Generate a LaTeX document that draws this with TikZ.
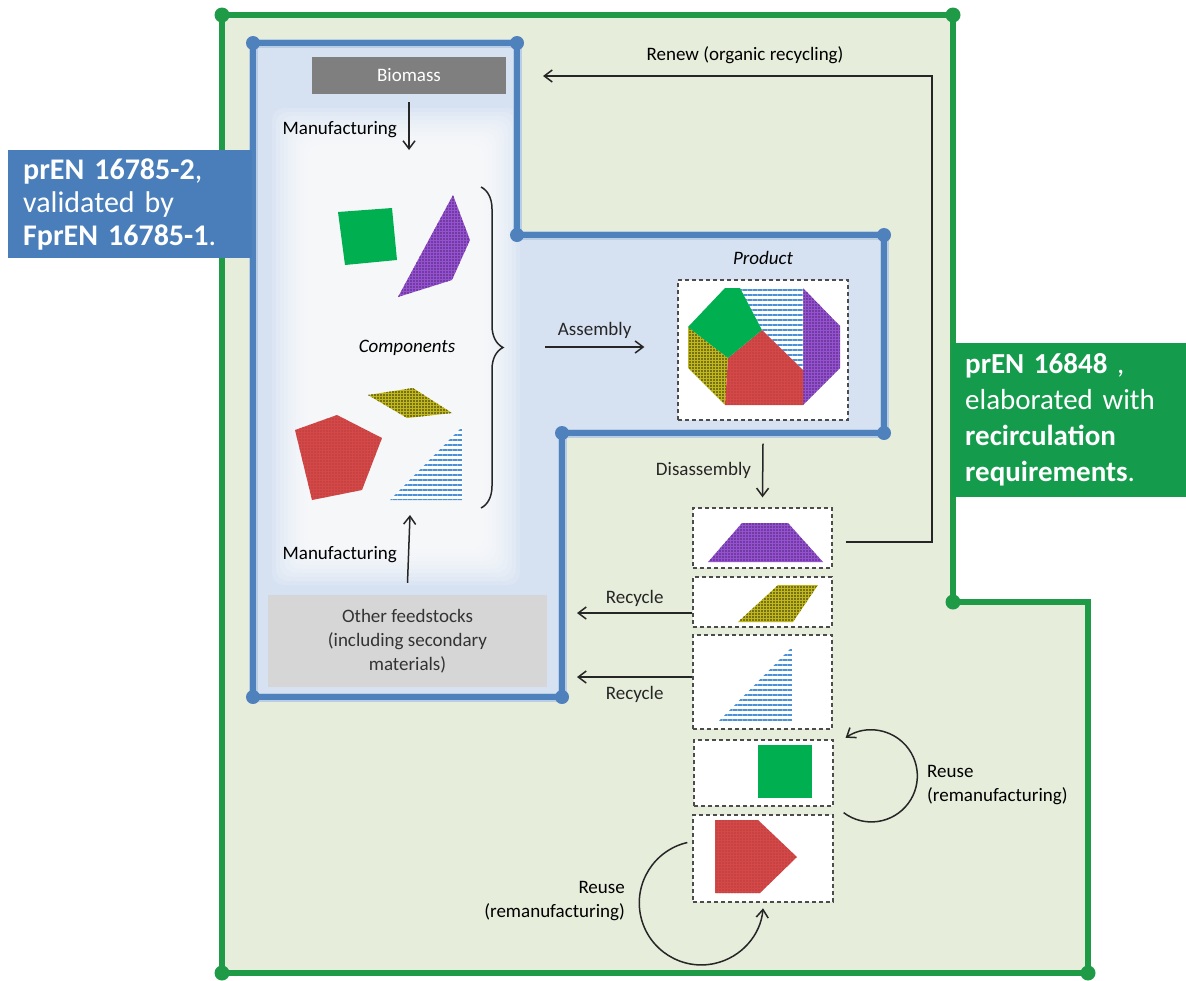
\documentclass[tikz,border=0pt]{standalone}
\usepackage{fontspec}
\setmainfont{Carlito}
\usetikzlibrary{arrows.meta,positioning,decorations.pathreplacing,patterns.meta}
\definecolor{frame}{RGB}{31,155,72}
\definecolor{frameback}{RGB}{230,237,219}
\definecolor{tech}{RGB}{79,129,189}
\definecolor{techback}{RGB}{214,225,241}
\definecolor{stdblue}{RGB}{74,126,187}
\definecolor{stdgreen}{RGB}{20,155,75}
\definecolor{biogray}{RGB}{127,127,127}
\definecolor{feedgray}{RGB}{214,214,214}
\definecolor{pgreen}{RGB}{0,176,80}
\definecolor{ppurple}{RGB}{150,80,210}
\definecolor{pyellow}{RGB}{195,185,20}
\definecolor{pred}{RGB}{212,72,72}
\definecolor{pblue}{RGB}{75,145,215}
\tikzset{
  lbl/.style={font=\fontsize{19}{24}\selectfont, inner sep=1pt, align=center},
  arr/.style={-{Straight Barb[length=8pt,width=12pt]}, line width=1.5pt, black!85},
  dbox/.style={draw=black!70, dash pattern=on 4pt off 3pt, line width=1.3pt, fill=white, inner sep=0pt},
  stdbox/.style={text=white, inner xsep=15pt, align=left, anchor=north west},
  gshape/.style={fill=pgreen},
  pshape/.style={preaction={fill=ppurple}, pattern={Dots[radius=0.8pt,distance=3pt]}, pattern color=ppurple!50!black},
  yshape/.style={preaction={fill=pyellow}, pattern={Dots[radius=0.9pt,distance=3pt]}, pattern color=black!85},
  rshape/.style={preaction={fill=pred}, pattern={Dots[radius=0.6pt,distance=3pt]}, pattern color=pred!75!black},
  bshape/.style={preaction={fill=white}, pattern={Lines[angle=0,distance=5pt,line width=2.6pt]}, pattern color=pblue}
}
\begin{document}
\begin{tikzpicture}[x=1pt,y=-1pt]
  \useasboundingbox (0,0) rectangle (1186,980);
  % circular economy frame
  \draw[frame, line width=5.5pt, fill=frameback] (222,15) -- (953,15) -- (953,602) -- (1088,602) -- (1088,973) -- (222,973) -- cycle;
  \foreach \p in {(222,15),(953,15),(953,602),(1088,973),(222,973)} \fill[frame] \p circle (7.5);
  % bio-based frame
  \fill[techback] (253,43) -- (517,43) -- (517,235) -- (884,235) -- (884,433) -- (562,433) -- (562,697) -- (253,697) -- cycle;
  \foreach \d in {0,4,...,36} \fill[white, opacity=.16, rounded corners=12pt] (272+\d,108+\d) rectangle (520-\d,585-\d);
  \draw[tech!40, line width=9pt] (253,43) -- (517,43) -- (517,235) -- (884,235) -- (884,433) -- (562,433) -- (562,697) -- (253,697) -- cycle;
  \draw[tech, line width=5.5pt] (253,43) -- (517,43) -- (517,235) -- (884,235) -- (884,433) -- (562,433) -- (562,697) -- (253,697) -- cycle;
  \foreach \p in {(253,43),(517,43),(517,235),(884,235),(884,433),(562,433),(562,697),(253,697)} \fill[tech] \p circle (7);

  % feedstocks
  \node[lbl, fill=biogray, text=white, minimum width=194pt, minimum height=37pt] (biomass) at (409,75.5) {Biomass};
  \node[lbl, fill=feedgray, text=black!80, minimum width=279pt, minimum height=92pt] (feed) at (407.5,641) {Other feedstocks\\(including secondary\\materials)};
  \node[lbl, anchor=east] (mf1) at (398,130) {Manufacturing};
  \node[lbl, anchor=east] (mf2) at (398,555) {Manufacturing};
  \coordinate (mf1end) at (409,150);
  \coordinate (mf2end) at (410,515);
  \draw[arr] ([yshift=-8pt]biomass.south) -- (mf1end);
  \draw[arr] ([yshift=12pt]feed.north) -- (mf2end);

  % components
  \fill[gshape] (338,212) -- (392,208) -- (397,260) -- (345,265) -- cycle;
  \fill[pshape] (453,195) -- (470,240) -- (452,280) -- (398,297) -- cycle;
  \fill[yshape] (368,395) -- (413,388) -- (452,413) -- (407,418) -- cycle;
  \fill[rshape] (295,430) -- (337,415) -- (382,438) -- (362,490) -- (312,500) -- cycle;
  \fill[bshape] (462,427) -- (462,500) -- (390,500) -- cycle;
  \node[lbl, font=\fontsize{19}{24}\selectfont\itshape] (comps) at (407,348) {Components};
  \draw[decorate, decoration={brace, amplitude=22pt}, line width=1.5pt, black!85] (481,187) -- (481,508);

  % product
  \node[dbox, minimum width=170pt, minimum height=140pt] (prod) at (763,350) {};
  \node[lbl, font=\fontsize{19}{24}\selectfont\itshape, above=14pt of prod] (prodlbl) {Product};
  \fill[pshape] (803,288) -- (840,326) -- (840,368) -- (803,405) -- cycle;
  \fill[bshape] (740,288) -- (803,288) -- (803,370) -- (762,330) -- cycle;
  \fill[yshape] (688,327) -- (728,358) -- (725,405) -- (688,368) -- cycle;
  \fill[rshape] (728,358) -- (762,330) -- (803,370) -- (803,405) -- (725,405) -- cycle;
  \fill[gshape] (688,327) -- (725,288) -- (740,288) -- (762,330) -- (728,358) -- cycle;
  \coordinate (asm) at (545,347);
  \draw[arr] (asm) -- ([xshift=-33pt,yshift=3pt]prod.west) node[lbl, midway, above=7pt] (asmlbl) {Assembly};

  % disassembled parts
  \node[dbox, minimum width=139pt, minimum height=60pt] (box1) at (762.5,538) {};
  \node[dbox, minimum width=139pt, minimum height=50pt] (box2) at (762.5,602) {};
  \node[dbox, minimum width=139pt, minimum height=94pt] (box3) at (762.5,682) {};
  \node[dbox, minimum width=139pt, minimum height=66pt] (box4) at (763.5,773) {};
  \node[dbox, minimum width=140pt, minimum height=87pt] (box5) at (763,858.5) {};
  \fill[pshape] (708,562) -- (742,523) -- (788,523) -- (823,562) -- cycle;
  \fill[yshape] (738,622) -- (778,585) -- (818,585) -- (793,622) -- cycle;
  \fill[bshape] (792,647) -- (792,722) -- (718,722) -- cycle;
  \fill[gshape] (758,745) rectangle (812,798);
  \fill[rshape] (715,820) -- (758,820) -- (797,857) -- (760,893) -- (715,893) -- cycle;
  \draw[arr] ([yshift=-23pt]prod.south) -- ([yshift=10pt]box1.north) node[lbl, midway, left=10pt] (dislbl) {Disassembly};

  % recirculation loops
  \coordinate (rc1) at (577,613);
  \coordinate (rc2) at (577,677);
  \draw[arr] ([yshift=-11pt]box2.west) -- (rc1) node[lbl, midway, above=5pt] (rclbl1) {Recycle};
  \draw[arr] ([yshift=5pt]box3.west) -- (rc2) node[lbl, midway, below=8pt] (rclbl2) {Recycle};
  \coordinate (renewcorner) at (932,76);
  \coordinate (renewend) at (543,76);
  \draw[arr] ([xshift=13pt,yshift=-4pt]box1.east) -| (renewcorner) -- (renewend);
  \node[lbl] (renewlbl) at (745,55) {Renew (organic recycling)};
  \draw[arr] ([shift={(10,6)}]box4.south east) arc[start angle=127, end angle=-124, radius=46];
  \node[lbl, anchor=west, align=left] (reuse1) at (926,785) {Reuse\\(remanufacturing)};
  \draw[arr] ([shift={(-5,-16)}]box5.west) arc[start angle=257, end angle=5, radius=62];
  \node[lbl, anchor=east, align=right] (reuse2) at (626,901) {Reuse\\(remanufacturing)};

  % standards
  \node[stdbox, fill=stdblue, font=\fontsize{30}{33}\selectfont, text width=214pt, minimum height=108pt] (std1) at (8,150) {\textbf{prEN 16785-2},\\validated by\\\textbf{FprEN 16785-1}.};
  \node[stdbox, fill=stdgreen, font=\fontsize{29}{36}\selectfont, inner xsep=13pt, text width=208pt, minimum height=154pt] (std2) at (952,343) {\textbf{prEN 16848} ,\\elaborated with\\\textbf{recirculation}\\\textbf{requirements}.};
\end{tikzpicture}
\end{document}
